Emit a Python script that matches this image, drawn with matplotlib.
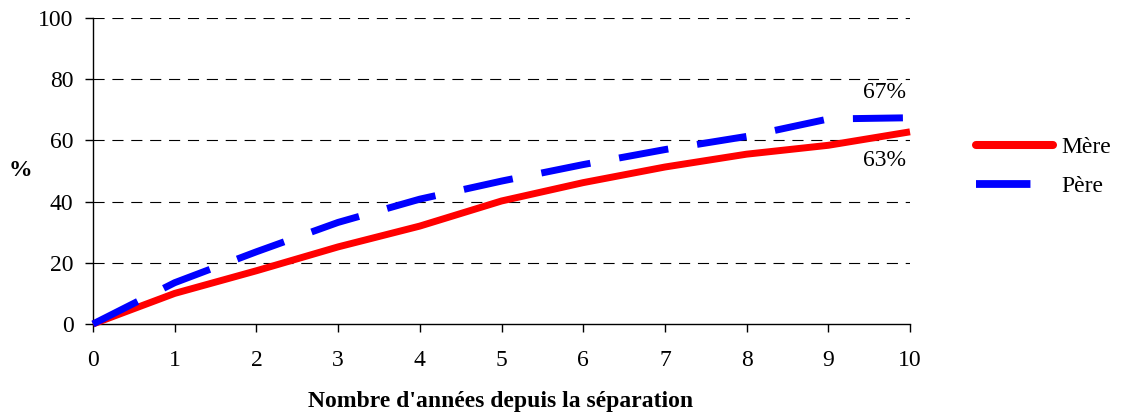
import matplotlib
matplotlib.use("Agg")
import matplotlib.pyplot as plt

years = [0, 1, 2, 3, 4, 5, 6, 7, 8, 9, 10]
mere = [0, 10.0, 17.4, 25.2, 32.0, 40.2, 46.2, 51.3, 55.5, 58.4, 62.8]
pere = [0, 13.5, 23.6, 33.2, 40.8, 46.7, 52.1, 57.0, 61.3, 67.0, 67.4]
yticks = [0, 20, 40, 60, 80, 100]
labels = ["Mère", "Père"]

plt.rcParams['font.family'] = ['Liberation Serif', 'DejaVu Serif']
FS = 17

fig = plt.figure(figsize=(11.22, 4.15), dpi=100)
ax = fig.add_axes([93/1122, (415-324)/415, (910-93)/1122, (324-18)/415])

for y in yticks[1:]:
    ax.axhline(y, color='black', lw=0.8, linestyle=(0, (10, 7)), zorder=1)

ax.plot(years, mere, color='#ff0000', lw=5, solid_capstyle='butt', label=labels[0], zorder=3, clip_on=False)
ax.plot(years, pere, color='#0000ff', lw=5, linestyle=(0, (7.2, 4.2)), dash_capstyle='butt', label=labels[1], zorder=3, clip_on=False)

ax.set_xlim(0, 10)
ax.set_ylim(0, 100)
ax.set_xticks(years)
ax.set_yticks(yticks)
ax.tick_params(axis='x', direction='out', length=6, width=1, pad=13, labelsize=FS)
ax.tick_params(axis='y', direction='out', length=6, width=1, pad=8, labelsize=FS)
for s in ['top', 'right']:
    ax.spines[s].set_visible(False)
ax.spines['left'].set_linewidth(1)
ax.spines['bottom'].set_linewidth(1)

ax.text(9.69, 75.6, "67%", ha='center', va='center', fontsize=FS)
ax.text(9.69, 53.5, "63%", ha='center', va='center', fontsize=FS)

fig.text(501/1122, 1-401/415, "Nombre d'années depuis la séparation", ha='center', va='center', fontsize=FS, fontweight='bold')
fig.text(20/1122, 1-170/415, "%", ha='center', va='center', fontsize=FS, fontweight='bold')

h1, = ax.plot([], [], color='#ff0000', lw=5.8, solid_capstyle='round')
h2, = ax.plot([], [], color='#0000ff', lw=5.6, linestyle=(0, (7.0, 4.2)), dash_capstyle='butt')
leg = fig.legend([h1, h2], labels, loc='center left', bbox_to_anchor=(955/1122, 1-167/415),
                 frameon=False, fontsize=FS, handlelength=3.25, handletextpad=0.35, labelspacing=0.75)

fig.savefig("out.png", dpi=100)
